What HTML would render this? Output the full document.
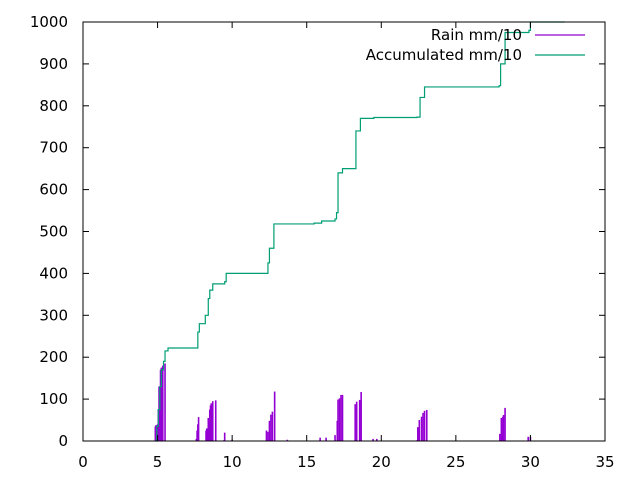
<!DOCTYPE html>
<html><head><meta charset="utf-8"><style>body{margin:0;background:#fff}svg{display:block;font-family:"DejaVu Sans",sans-serif;font-size:15px}</style></head>
<body>
<svg id="chart" width="640" height="480" xmlns="http://www.w3.org/2000/svg"></svg>
<script>
const xTicks=[0,5,10,15,20,25,30,35];
const yTicks=[0,100,200,300,400,500,600,700,800,900,1000];
const rainX=[4.85,4.9,5.0,5.05,5.1,5.15,5.2,5.25,5.3,5.35,5.5,7.6,7.65,7.7,7.75,8.25,8.3,8.4,8.5,8.55,8.6,8.7,8.9,9.45,9.5,10.0,12.3,12.4,12.5,12.6,12.7,12.85,13.7,15.9,16.3,16.9,17.05,17.1,17.2,17.3,17.4,18.25,18.35,18.55,18.65,19.45,19.7,22.4,22.45,22.55,22.7,22.8,22.9,23.05,27.95,28.05,28.1,28.15,28.2,28.3,29.85,30.0];
const rainY=[35,38,40,75,130,120,170,175,175,180,185,5,25,40,57,25,30,55,75,85,90,95,97,2,20,3,25,22,48,63,70,118,3,8,8,14,48,99,102,110,110,88,94,98,117,5,5,2,33,50,58,67,72,74,17,55,14,58,62,79,10,10];
const accX=[4.85,4.95,5.05,5.15,5.25,5.4,5.5,5.7,7.6,7.7,7.8,8.2,8.4,8.5,8.7,9.5,9.6,12.3,12.4,12.5,12.8,15.5,16.0,16.9,17.0,17.1,17.4,18.2,18.3,18.6,19.5,22.4,22.6,22.9,27.9,28.0,28.3,29.9,30.0,32.3];
const accY=[0,35,75,130,170,190,215,222,222,260,280,300,340,360,375,380,400,400,425,460,518,520,525,530,545,640,650,650,740,770,772,773,820,845,848,900,975,980,1000,1000];
const svg=document.getElementById('chart');const NS='http://www.w3.org/2000/svg';
const L=83,R=605,T=22,B=441;
const sx=v=>L+(v-0)/35*(R-L), sy=v=>B-v/1000*(B-T);
function mk(tag,at,par){const e=document.createElementNS(NS,tag);for(const k in at)e.setAttribute(k,at[k]);(par||svg).appendChild(e);return e;}
const gR=mk('g',{});


rainX.forEach((x,i)=>{const r=mk('rect',{x:sx(x)-0.8,y:sy(rainY[i]),width:1.6,height:B-sy(rainY[i]),fill:'#9400d3'},gR);

});
let d='M'+sx(accX[0])+','+sy(accY[0]);
for(let i=1;i<accX.length;i++){d+=' H'+sx(accX[i])+' V'+sy(accY[i]);}
const p=mk('path',{d:d,fill:'none',stroke:'#009e73','stroke-width':1.2});


const bd=mk('rect',{x:L,y:T,width:R-L,height:B-T,fill:'none',stroke:'#000','stroke-width':1});


xTicks.forEach(v=>{mk('line',{x1:sx(v),x2:sx(v),y1:B,y2:B-6,stroke:'#000'});mk('line',{x1:sx(v),x2:sx(v),y1:T,y2:T+6,stroke:'#000'});
const t=mk('text',{x:sx(v),y:B+26,'text-anchor':'middle'});t.textContent=v;

});
yTicks.forEach(v=>{mk('line',{x1:L,x2:L+6,y1:sy(v),y2:sy(v),stroke:'#000'});mk('line',{x1:R,x2:R-6,y1:sy(v),y2:sy(v),stroke:'#000'});
const t=mk('text',{x:L-15,y:sy(v)+5,'text-anchor':'end'});t.textContent=v;

});
const l1=mk('text',{x:522,y:40,'text-anchor':'end'});l1.textContent='Rain mm/10';


mk('line',{x1:535,x2:585,y1:35,y2:35,stroke:'#9400d3','stroke-width':1.2});
const l2=mk('text',{x:522,y:60,'text-anchor':'end'});l2.textContent='Accumulated mm/10';


mk('line',{x1:535,x2:585,y1:55,y2:55,stroke:'#009e73','stroke-width':1.2});
</script>
</body></html>
